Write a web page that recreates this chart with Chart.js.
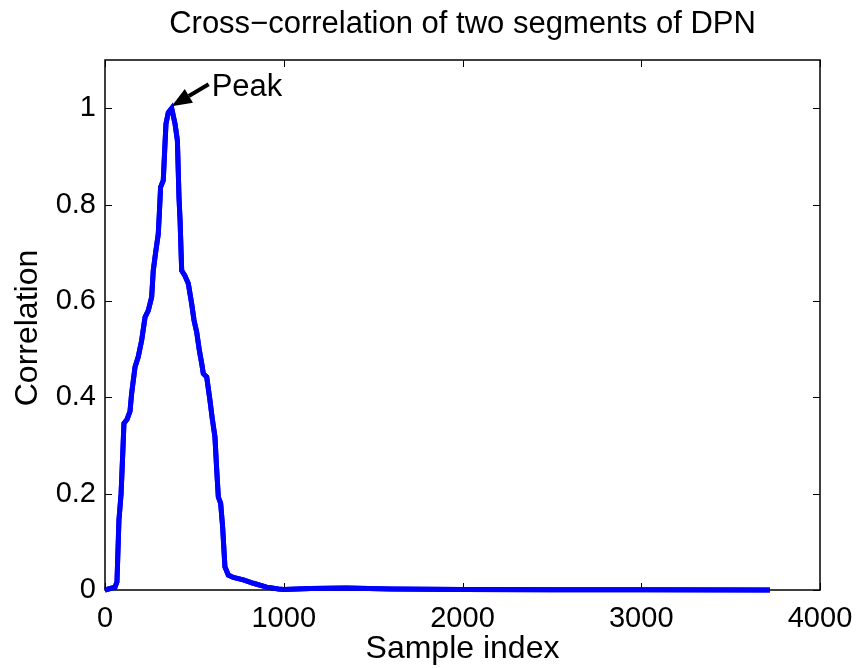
<!DOCTYPE html>
<html lang="en">
<head>
<meta charset="UTF-8">
<title>Cross-correlation of two segments of DPN</title>
<style>
    html, body { margin: 0; padding: 0; background: #fff; }
    #wrap { width: 859px; height: 668px; position: relative; }
</style>
</head>
<body>
<div id="wrap"><canvas id="xcorr"></canvas></div>
<script src="https://cdn.jsdelivr.net/npm/chart.js"></script>
<script>
    // values
    const sampleIdx = [0, 56, 67, 78, 90, 100, 106, 123, 140, 149, 168, 186, 205, 224, 242, 261, 270, 283, 298, 304, 311, 326, 332, 341, 354, 373, 392, 405, 414, 420, 429, 446, 466, 485, 498, 513, 528, 541, 550, 569, 587, 600, 615, 625, 634, 647, 658, 671, 690, 718, 774, 830, 904, 970, 1000, 1150, 1350, 1600, 2000, 2500, 3000, 3720];
    const corr = [0, 0.006, 0.017, 0.145, 0.2, 0.29, 0.346, 0.354, 0.371, 0.408, 0.463, 0.484, 0.518, 0.566, 0.58, 0.608, 0.663, 0.70, 0.739, 0.781, 0.836, 0.85, 0.898, 0.967, 0.991, 1.0, 0.967, 0.933, 0.815, 0.767, 0.663, 0.653, 0.636, 0.594, 0.56, 0.535, 0.497, 0.47, 0.449, 0.442, 0.394, 0.356, 0.318, 0.249, 0.193, 0.18, 0.131, 0.048, 0.031, 0.026, 0.021, 0.014, 0.006, 0.002, 0.001, 0.003, 0.004, 0.002, 0.001, 0.0005, 0.0003, 0.0002];
    const xTicks = [0, 1000, 2000, 3000, 4000];
    const yTicks = [0, 0.2, 0.4, 0.6, 0.8, 1];
    const peak = { x: 373, y: 1.0, label: 'Peak' };

    const FONT = '"Liberation Sans", Arial, Helvetica, sans-serif';

    // matlab style box, inward ticks, titles and the arrow
    const decor = {
        id: 'decor',
        afterDraw(chart) {
            const ctx = chart.ctx;
            const a = chart.chartArea;
            const xs = chart.scales.x, ys = chart.scales.y;
            ctx.save();
            ctx.strokeStyle = '#000';
            ctx.lineWidth = 1.5;
            ctx.strokeRect(a.left, a.top, a.right - a.left, a.bottom - a.top);
            ctx.lineWidth = 1;
            ctx.beginPath();
            xTicks.forEach(v => {
                const px = Math.round(xs.getPixelForValue(v)) + 0.5;
                ctx.moveTo(px, a.bottom); ctx.lineTo(px, a.bottom - 7);
                ctx.moveTo(px, a.top); ctx.lineTo(px, a.top + 7);
            });
            yTicks.forEach(v => {
                const py = Math.round(ys.getPixelForValue(v)) + 0.5;
                ctx.moveTo(a.left, py); ctx.lineTo(a.left + 7, py);
                ctx.moveTo(a.right, py); ctx.lineTo(a.right - 7, py);
            });
            ctx.stroke();

            // redraw line on top of the box
            chart.getDatasetMeta(0).controller.draw();

            ctx.fillStyle = '#000';
            ctx.textAlign = 'center';
            ctx.textBaseline = 'alphabetic';
            const cx = (a.left + a.right) / 2;
            ctx.font = '31px ' + FONT;
            ctx.fillText('Cross\u2212correlation of two segments of DPN', cx, 33);
            ctx.font = '32px ' + FONT;
            ctx.fillText('Sample index', cx, 658);
            ctx.save();
            ctx.translate(37, 328);
            ctx.rotate(-Math.PI / 2);
            ctx.fillText('Correlation', 0, 0);
            ctx.restore();

            // arrow pointing at the peak
            const tx = xs.getPixelForValue(peak.x), ty = ys.getPixelForValue(peak.y) - 2;
            const ex = tx + 37, ey = ty - 22;
            const ang = Math.atan2(ty - ey, tx - ex);
            const hl = 20, hw = 8;
            const bx = tx - hl * Math.cos(ang), by = ty - hl * Math.sin(ang);
            ctx.lineWidth = 4;
            ctx.beginPath();
            ctx.moveTo(ex, ey); ctx.lineTo(bx, by);
            ctx.stroke();
            ctx.beginPath();
            ctx.moveTo(tx, ty);
            ctx.lineTo(bx + hw * Math.sin(ang), by - hw * Math.cos(ang));
            ctx.lineTo(bx - hw * Math.sin(ang), by + hw * Math.cos(ang));
            ctx.closePath();
            ctx.fill();
            ctx.textAlign = 'left';
            ctx.font = '31px ' + FONT;
            ctx.fillText(peak.label, ex + 3, ey + 12);
            ctx.restore();
        }
    };

    const ctx = document.getElementById('xcorr').getContext('2d');
    const chart = new Chart(ctx, {
        type: 'line',
        data: {
            datasets: [{
                data: sampleIdx.map((x, i) => ({ x: x, y: corr[i] })),
                borderColor: '#0000ff',
                borderWidth: 5,
                pointRadius: 0,
                tension: 0,
                fill: false,
                clip: false
            }]
        },
        options: {
            responsive: true,
            maintainAspectRatio: false,
            animation: false,
            events: [],
            layout: { padding: { top: 60, right: 39, left: 0, bottom: 0 } },
            plugins: { legend: { display: false }, tooltip: { enabled: false } },
            scales: {
                x: {
                    type: 'linear',
                    min: 0, max: 4000,
                    afterBuildTicks: s => { s.ticks = xTicks.map(v => ({ value: v })); },
                    afterFit: s => { s.height = 78; s.paddingLeft = 0; s.paddingRight = 0; },
                    grid: { display: false, drawTicks: false },
                    border: { display: false },
                    ticks: {
                        color: '#000', padding: 12, maxRotation: 0,
                        font: { family: FONT, size: 29 },
                        callback: v => String(v)
                    }
                },
                y: {
                    type: 'linear',
                    min: 0, max: 1.1,
                    afterBuildTicks: s => { s.ticks = yTicks.map(v => ({ value: v })); },
                    afterFit: s => { s.width = 105; s.paddingTop = 0; s.paddingBottom = 0; },
                    grid: { display: false, drawTicks: false },
                    border: { display: false },
                    ticks: {
                        color: '#000', padding: 9,
                        font: { family: FONT, size: 29 },
                        callback: v => String(Math.round(v * 10) / 10)
                    }
                }
            }
        },
        plugins: [decor]
    });
</script>
</body>
</html>
